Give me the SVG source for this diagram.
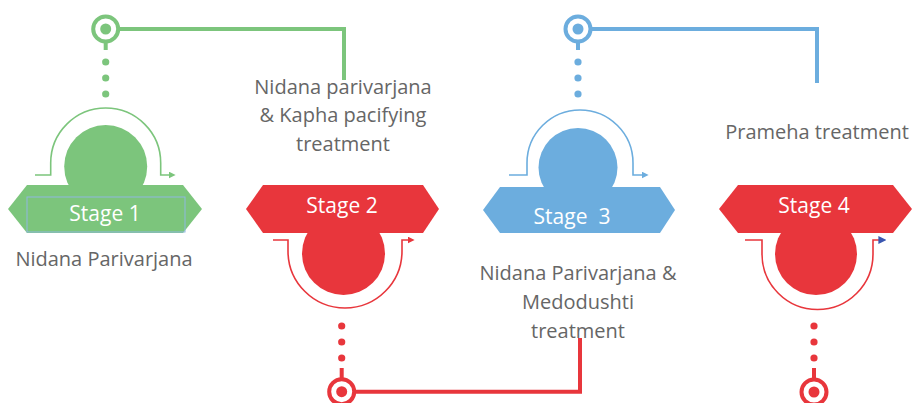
<svg xmlns="http://www.w3.org/2000/svg" width="916" height="403" viewBox="0 0 916 403">
<defs>
<style>
.lbl{font-family:"Open Sans","Liberation Sans",sans-serif;font-size:20px;fill:#666;text-anchor:middle}
.stg{font-family:"Open Sans","Liberation Sans",sans-serif;font-size:21px;fill:#fff;text-anchor:middle}
.g{fill:#7CC57C}.r{fill:#E8363C}.b{fill:#6CADDE}
.arcG{fill:none;stroke:#7CC57C;stroke-width:1.6}
.arcR{fill:none;stroke:#E8363C;stroke-width:1.6}
.arcB{fill:none;stroke:#6CADDE;stroke-width:1.6}
.ring{fill:#fff;stroke-width:4}
.conn{fill:none;stroke-width:4}
</style>
<marker id="ahG" viewBox="0 0 10 10" refX="2" refY="5" markerWidth="7" markerHeight="7" markerUnits="userSpaceOnUse" orient="auto"><path d="M0,0 L10,5 L0,10 z" fill="#7CC57C"/></marker>
<marker id="ahR" viewBox="0 0 10 10" refX="2" refY="5" markerWidth="7" markerHeight="7" markerUnits="userSpaceOnUse" orient="auto"><path d="M0,0 L10,5 L0,10 z" fill="#E8363C"/></marker>
<marker id="ahB" viewBox="0 0 10 10" refX="2" refY="5" markerWidth="7" markerHeight="7" markerUnits="userSpaceOnUse" orient="auto"><path d="M0,0 L10,5 L0,10 z" fill="#6CADDE"/></marker>
<marker id="ahD" viewBox="0 0 10 10" refX="2" refY="5" markerWidth="8" markerHeight="8" markerUnits="userSpaceOnUse" orient="auto"><path d="M0,0 L10,5 L0,10 z" fill="#3A56B0"/></marker>
</defs>
<rect width="916" height="403" fill="#fff"/>

<g id="connectors">
<path class="conn" stroke="#7CC57C" d="M118,29 H344 V80"/>
<path class="conn" stroke="#6CADDE" d="M590.5,29 H817 V83"/>
<path class="conn" stroke="#E8363C" d="M354,391.7 H580 V338"/>
</g>

<g id="stage1">
<circle class="ring" stroke="#7CC57C" cx="105.7" cy="29" r="12.5"/>
<circle class="g" cx="105.7" cy="29" r="5.5"/>
<rect class="g" x="103.7" y="41" width="4" height="9"/>
<circle class="g" cx="105.7" cy="62" r="3.6"/>
<circle class="g" cx="105.7" cy="78" r="3.6"/>
<circle class="g" cx="105.7" cy="94" r="3.6"/>
<path class="arcG" marker-end="url(#ahG)" d="M35,175 H50.7 V163 A55,55 0 0 1 160.7,163 V175 H170"/>
<circle class="g" cx="105.7" cy="166.5" r="41.5"/>
<polygon class="g" points="8,209 27,185 183,185 202,209 183,233 27,233"/>
<rect x="27" y="197" width="158" height="35" fill="none" stroke="#8FB8E0" stroke-width="1"/>
<text class="stg" x="105" y="221">Stage 1</text>
<text class="lbl" x="104" y="266">Nidana Parivarjana</text>
</g>

<g id="stage2">
<circle class="r" cx="343.5" cy="253.5" r="41.5"/>
<path class="arcR" marker-end="url(#ahR)" d="M273,240 H288 V251 A57,57 0 0 0 402,251 V240 H409"/>
<polygon class="r" points="246,209 263,185 423,185 439,209 423,233 263,233"/>
<text class="stg" x="342" y="213">Stage 2</text>
<circle class="r" cx="341.7" cy="326" r="3.6"/>
<circle class="r" cx="341.7" cy="342" r="3.6"/>
<circle class="r" cx="341.7" cy="358" r="3.6"/>
<rect class="r" x="339.7" y="368" width="4" height="10"/>
<circle class="ring" stroke="#E8363C" cx="341.7" cy="391.7" r="12.5"/>
<circle class="r" cx="341.7" cy="391.7" r="5.5"/>
<text class="lbl" x="343" y="94">Nidana parivarjana</text>
<text class="lbl" x="343" y="122">&amp; Kapha pacifying</text>
<text class="lbl" x="343" y="151">treatment</text>
</g>

<g id="stage3">
<circle class="ring" stroke="#6CADDE" cx="578" cy="29" r="12.5"/>
<circle class="b" cx="578" cy="29" r="5.5"/>
<rect class="b" x="576" y="41" width="4" height="9"/>
<circle class="b" cx="578" cy="62" r="3.6"/>
<circle class="b" cx="578" cy="78" r="3.6"/>
<circle class="b" cx="578" cy="94" r="3.6"/>
<path class="arcB" marker-end="url(#ahB)" d="M509,175 H527 V163 A53,53 0 0 1 633,163 V175 H643"/>
<circle class="b" cx="578" cy="167.5" r="39.5"/>
<polygon class="b" points="483,210 500,187 660,187 675,210 660,233 500,233"/>
<text class="stg" x="572" y="224" xml:space="preserve">Stage  3</text>
<text class="lbl" x="578" y="280">Nidana Parivarjana &amp;</text>
<text class="lbl" x="578" y="309">Medodushti</text>
<text class="lbl" x="578" y="338">treatment</text>
</g>

<g id="stage4">
<circle class="r" cx="816" cy="254" r="41"/>
<path class="arcR" marker-end="url(#ahD)" d="M745,240 H762 V254 A55.5,55.5 0 0 0 873,254 V240 H880"/>
<polygon class="r" points="719,209 738,185 893,185 912,209 893,233 738,233"/>
<text class="stg" x="814" y="213">Stage 4</text>
<circle class="r" cx="814" cy="326" r="3.6"/>
<circle class="r" cx="814" cy="342" r="3.6"/>
<circle class="r" cx="814" cy="358" r="3.6"/>
<rect class="r" x="812" y="368" width="4" height="10"/>
<circle class="ring" stroke="#E8363C" cx="814" cy="392" r="12.5"/>
<circle class="r" cx="814" cy="392" r="5.5"/>
<text class="lbl" x="817" y="139">Prameha treatment</text>
</g>
</svg>
